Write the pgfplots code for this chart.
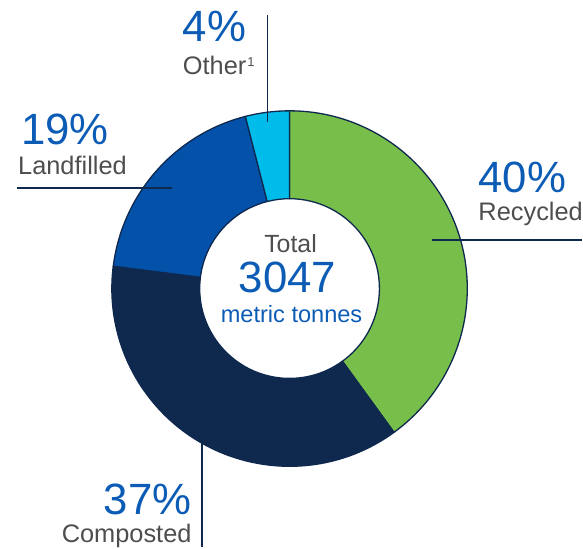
\documentclass[border=0pt]{standalone}
\usepackage{pgfplots}
\usepackage{pgfplotstable}
\pgfplotsset{compat=1.18}
\usepackage{fontspec}
\setmainfont{Liberation Sans}

\definecolor{recgreen}{RGB}{120,190,75}
\definecolor{navy}{RGB}{14,40,78}
\definecolor{landblue}{RGB}{4,81,170}
\definecolor{othcyan}{RGB}{0,188,235}
\definecolor{lblue}{RGB}{12,92,182}
\definecolor{txtgray}{RGB}{78,78,78}

% share of total waste, in percent, clockwise from the top
\pgfplotstableread{
label value
Recycled 40
Composted 37
Landfilled 19
Other 4
}\wastedata

\pgfplotstablegetelem{0}{value}\of\wastedata \pgfmathsetmacro\angA{90-3.6*\pgfplotsretval}
\pgfplotstablegetelem{1}{value}\of\wastedata \pgfmathsetmacro\angB{\angA-3.6*\pgfplotsretval}
\pgfplotstablegetelem{2}{value}\of\wastedata \pgfmathsetmacro\angC{\angB-3.6*\pgfplotsretval}
\pgfplotstablegetelem{3}{value}\of\wastedata \pgfmathsetmacro\angD{\angC-3.6*\pgfplotsretval}

% ring segment: start angle, end angle, colour
\newcommand\seg[3]{%
  \filldraw[fill=#3, draw=navy, line width=1.3pt, line join=round]
    (axis cs:290,259) ++(#1:178bp) arc[start angle=#1, end angle=#2, radius=178bp]
    -- ++(#2:-88bp) arc[start angle=#2, end angle=#1, radius=90bp] -- cycle;}

\newcommand\bignum{\fontsize{44}{44}\selectfont}
\newcommand\lab{\fontsize{25.5}{25.5}\selectfont}

\begin{document}
\begin{tikzpicture}
\begin{axis}[
  width=583bp, height=548bp, scale only axis,
  xmin=0, xmax=583, ymin=0, ymax=548,
  hide axis, clip=false]
  \path (axis cs:0,0) (axis cs:583,548);
  \seg{90}{\angA}{recgreen}
  \seg{\angA}{\angB}{navy}
  \seg{\angB}{\angC}{landblue}
  \seg{\angC}{\angD}{othcyan}

  % leader lines
  \draw[navy, line width=1.8pt] (axis cs:268,533) -- (axis cs:268,426);
  \draw[navy, line width=1.8pt] (axis cs:17,360) -- (axis cs:172,360);
  \draw[navy, line width=1.8pt] (axis cs:433,308) -- (axis cs:583,308);
  \draw[navy, line width=1.8pt] (axis cs:202,108) -- (axis cs:202,0);

  % labels
  \node[anchor=base west, inner sep=0, text=lblue, font=\bignum] at (axis cs:183,506) {4\%};
  \node[anchor=base west, inner sep=0, text=txtgray, font=\lab] at (axis cs:183,473) {Other\kern1bp\raisebox{8bp}{\fontsize{13}{13}\selectfont 1}};
  \node[anchor=base west, inner sep=0, text=lblue, font=\bignum] at (axis cs:21,403) {19\%};
  \node[anchor=base west, inner sep=0, text=txtgray, font=\lab] at (axis cs:18,373) {Landfilled};
  \node[anchor=base west, inner sep=0, text=lblue, font=\bignum] at (axis cs:479,355) {40\%};
  \node[anchor=base west, inner sep=0, text=txtgray, font=\lab] at (axis cs:479,327) {Recycled};
  \node[anchor=base east, inner sep=0, text=lblue, font=\bignum] at (axis cs:192,33) {37\%};
  \node[anchor=base east, inner sep=0, text=txtgray, font=\lab] at (axis cs:192,5) {Composted};

  % centre
  \node[anchor=base, inner sep=0, text=txtgray, font=\fontsize{25}{25}\selectfont] at (axis cs:291,295) {Total};
  \node[anchor=base, inner sep=0, text=lblue, font=\bignum] at (axis cs:288,255) {3047};
  \node[anchor=base, inner sep=0, text=lblue, font=\fontsize{23.7}{23.7}\selectfont] at (axis cs:292,225) {metric tonnes};
\end{axis}
\end{tikzpicture}
\end{document}
